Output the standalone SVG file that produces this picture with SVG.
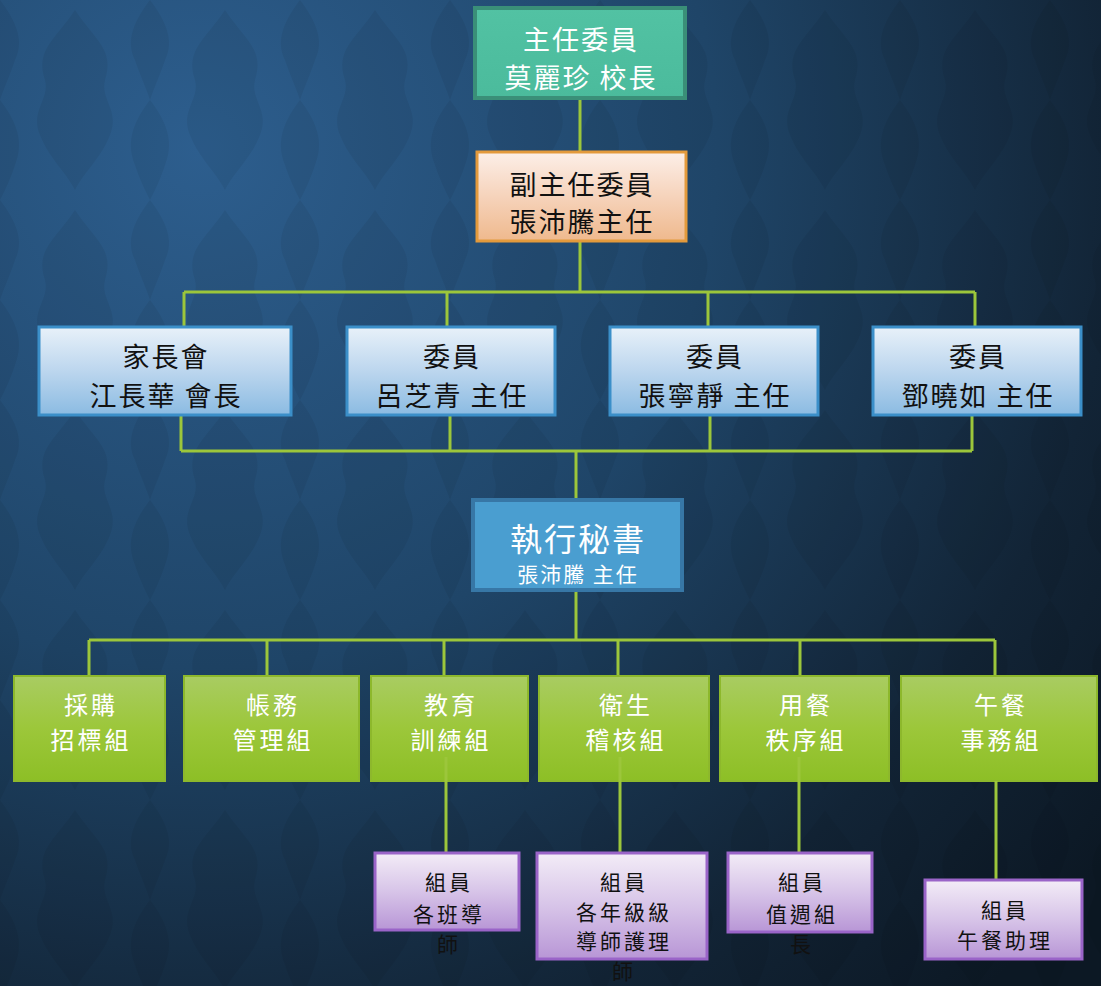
<svg xmlns="http://www.w3.org/2000/svg" width="1101" height="986" viewBox="0 0 1101 986">
<defs>
<radialGradient id="bg" cx="200" cy="150" r="1150" gradientUnits="userSpaceOnUse">
<stop offset="0" stop-color="#2d5e8e"/>
<stop offset="0.45" stop-color="#1f4568"/>
<stop offset="0.8" stop-color="#122436"/>
<stop offset="1" stop-color="#0c1824"/>
</radialGradient>
<pattern id="damask" width="150" height="200" patternUnits="userSpaceOnUse">
<g fill="#000" opacity="0.06">
<path d="M75 10 C95 40 115 50 105 80 C100 100 120 110 110 135 C100 160 85 170 75 190 C65 170 50 160 40 135 C30 110 50 100 45 80 C35 50 55 40 75 10 Z"/>
<path d="M0 100 C15 120 25 140 15 165 C10 180 5 190 0 200 Z M150 100 C135 120 125 140 135 165 C140 180 145 190 150 200 Z"/>
<path d="M0 0 C15 20 25 40 15 60 C10 75 5 85 0 100 Z M150 0 C135 20 125 40 135 60 C140 75 145 85 150 100 Z"/>
</g>
</pattern>
<linearGradient id="gTop" x1="0" y1="0" x2="0" y2="1"><stop offset="0" stop-color="#52c2a3"/><stop offset="1" stop-color="#4bbb9c"/></linearGradient>
<linearGradient id="gOrange" x1="0" y1="0" x2="0" y2="1"><stop offset="0" stop-color="#fcefe8"/><stop offset="0.5" stop-color="#f6d3bb"/><stop offset="1" stop-color="#efb98d"/></linearGradient>
<linearGradient id="gBlue" x1="0" y1="0" x2="0" y2="1"><stop offset="0" stop-color="#e8f1f9"/><stop offset="0.5" stop-color="#bcd6ee"/><stop offset="1" stop-color="#8bbbe2"/></linearGradient>
<linearGradient id="gGreen" x1="0" y1="0" x2="0" y2="1"><stop offset="0" stop-color="#a9cc62"/><stop offset="0.5" stop-color="#9cc73a"/><stop offset="1" stop-color="#8dbf26"/></linearGradient>
<linearGradient id="gPurple" x1="0" y1="0" x2="0" y2="1"><stop offset="0" stop-color="#f3ecf7"/><stop offset="0.5" stop-color="#d7c4e8"/><stop offset="1" stop-color="#b896d6"/></linearGradient>
<style>
.t{font-family:"Noto Sans CJK TC","Noto Sans CJK SC",sans-serif;text-anchor:middle}
.w{fill:#ffffff}
.k{fill:#111111}
.s28{font-size:27px;letter-spacing:2px}
.s25{font-size:24px;letter-spacing:3px}
.s22{font-size:21px;letter-spacing:3px}
.conn{stroke:#9cc63b;stroke-width:3;fill:none}
.top{fill:url(#gTop);stroke:#3a8f78;stroke-width:4}
.org{fill:url(#gOrange);stroke:#e39a3c;stroke-width:3}
.blu{fill:url(#gBlue);stroke:#3b8fc9;stroke-width:3}
.exe{fill:#4a9ed0;stroke:#3777a6;stroke-width:4}
.grn{fill:url(#gGreen);stroke:#8db82c;stroke-width:2}
.pur{fill:url(#gPurple);stroke:#9a64c8;stroke-width:3}
</style>
</defs>
<rect width="1101" height="986" fill="url(#bg)"/>
<rect width="1101" height="986" fill="url(#damask)"/>

<g id="connectors">
<path class="conn" d="M580 98 V152"/>
<path class="conn" d="M580 241 V292 M184 292 H975 M184 292 V327 M447 292 V327 M708 292 V327 M975 292 V327"/>
<path class="conn" d="M181 415 V451 M450 415 V451 M710 415 V451 M972 415 V451 M181 451 H972 M576 451 V500"/>
<path class="conn" d="M576 590 V640 M89 640 H995 M89 640 V676 M267 640 V676 M444 640 V676 M618 640 V676 M800 640 V676 M995 640 V676"/>
</g>

<g id="n-top"><rect class="top" x="475" y="8" width="210" height="90"/>
<text class="t w s28" x="581" y="50">主任委員</text><text class="t w s28" x="581" y="88">莫麗珍 校長</text></g>

<g id="n-vice"><rect class="org" x="477" y="152" width="209" height="89"/>
<text class="t k s28" x="582" y="195">副主任委員</text><text class="t k s28" x="582" y="232">張沛騰主任</text></g>

<g id="n-parent"><rect class="blu" x="39" y="327" width="252" height="88"/>
<text class="t k s28" x="166" y="367">家長會</text><text class="t k s28" x="166" y="406">江長華 會長</text></g>
<g id="n-c1"><rect class="blu" x="347" y="327" width="208" height="88"/>
<text class="t k s28" x="452" y="367">委員</text><text class="t k s28" x="452" y="406">呂芝青 主任</text></g>
<g id="n-c2"><rect class="blu" x="610" y="327" width="208" height="88"/>
<text class="t k s28" x="715" y="367">委員</text><text class="t k s28" x="715" y="406">張寧靜 主任</text></g>
<g id="n-c3"><rect class="blu" x="873" y="327" width="208" height="88"/>
<text class="t k s28" x="978" y="367">委員</text><text class="t k s28" x="978" y="406">鄧曉如 主任</text></g>

<g id="n-exec"><rect class="exe" x="473" y="500" width="209" height="90"/>
<text class="t w" x="578" y="551" font-size="32" letter-spacing="2">執行秘書</text><text class="t w" x="578" y="582" font-size="21" letter-spacing="2">張沛騰 主任</text></g>

<g id="n-g1"><rect class="grn" x="14" y="676" width="151" height="105"/>
<text class="t w s25" x="91" y="714">採購</text><text class="t w s25" x="91" y="749">招標組</text></g>
<g id="n-g2"><rect class="grn" x="184" y="676" width="175" height="105"/>
<text class="t w s25" x="273" y="714">帳務</text><text class="t w s25" x="273" y="749">管理組</text></g>
<g id="n-g3"><rect class="grn" x="371" y="676" width="157" height="105"/>
<text class="t w s25" x="451" y="714">教育</text><text class="t w s25" x="451" y="749">訓練組</text></g>
<g id="n-g4"><rect class="grn" x="539" y="676" width="170" height="105"/>
<text class="t w s25" x="626" y="714">衛生</text><text class="t w s25" x="626" y="749">稽核組</text></g>
<g id="n-g5"><rect class="grn" x="720" y="676" width="169" height="105"/>
<text class="t w s25" x="806" y="714">用餐</text><text class="t w s25" x="806" y="749">秩序組</text></g>
<g id="n-g6"><rect class="grn" x="901" y="676" width="196" height="105"/>
<text class="t w s25" x="1001" y="714">午餐</text><text class="t w s25" x="1001" y="749">事務組</text></g>

<g id="connectors-lower">
<path class="conn" d="M446 757 V852 M620 757 V852 M799 757 V852 M996 781 V880"/>
</g>

<g id="n-p1"><rect class="pur" x="375" y="853" width="144" height="77"/>
<text class="t k s22" x="449" y="890">組員</text><text class="t k s22" x="449" y="922">各班導</text><text class="t k s22" x="449" y="952">師</text></g>
<g id="n-p2"><rect class="pur" x="537" y="853" width="170" height="106"/>
<text class="t k s22" x="624" y="890">組員</text><text class="t k s22" x="624" y="920">各年級級</text><text class="t k s22" x="624" y="949">導師護理</text><text class="t k s22" x="624" y="979">師</text></g>
<g id="n-p3"><rect class="pur" x="728" y="853" width="144" height="79"/>
<text class="t k s22" x="802" y="890">組員</text><text class="t k s22" x="802" y="922">值週組</text><text class="t k s22" x="802" y="952">長</text></g>
<g id="n-p4"><rect class="pur" x="925" y="880" width="157" height="79"/>
<text class="t k s22" x="1005" y="918">組員</text><text class="t k s22" x="1005" y="948">午餐助理</text></g>
</svg>
